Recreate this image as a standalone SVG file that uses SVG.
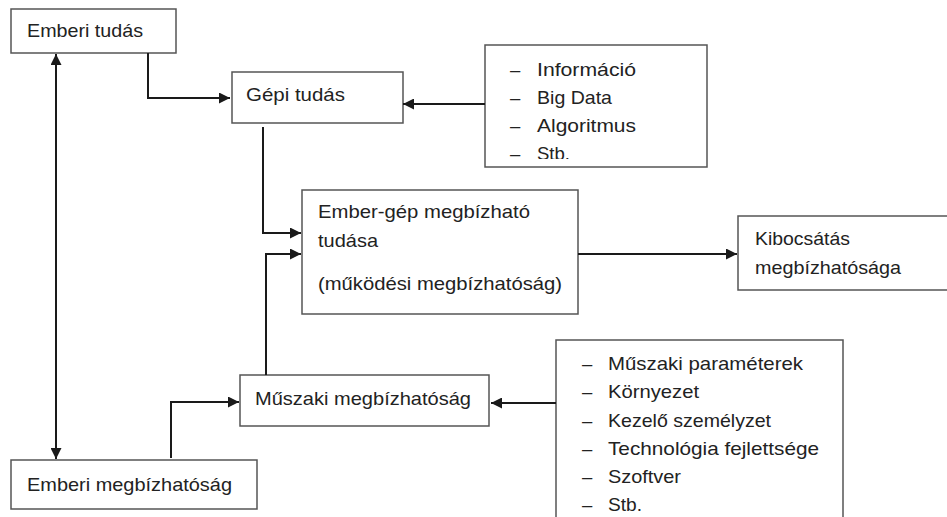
<svg xmlns="http://www.w3.org/2000/svg" width="947" height="517" viewBox="0 0 947 517">
<style>
.box{fill:#fff;stroke:#555;stroke-width:1.5}
.t{font-family:"Liberation Sans",Arial,sans-serif;font-size:18.5px;fill:#222}
.c{fill:none;stroke:#1a1a1a;stroke-width:2}
</style>
<defs>
<marker id="ah" markerUnits="userSpaceOnUse" markerWidth="11" markerHeight="11" refX="11" refY="5.5" orient="auto-start-reverse">
<path d="M0,0 L11,5.5 L0,11 z" fill="#1a1a1a"/>
</marker>
<clipPath id="clip1"><rect x="485" y="45" width="222" height="114"/></clipPath>
</defs>
<rect width="947" height="517" fill="#fff"/>
<g id="emberi-tudas">
<rect class="box" x="11" y="9" width="165" height="44"/>
<text class="t" x="27" y="37" textLength="116" lengthAdjust="spacingAndGlyphs">Emberi tudás</text>
</g>
<g id="gepi-tudas">
<rect class="box" x="232" y="72" width="171" height="51"/>
<text class="t" x="246" y="101" textLength="99" lengthAdjust="spacingAndGlyphs">Gépi tudás</text>
</g>
<g id="info-lista">
<rect class="box" x="485" y="45" width="222" height="122"/>
<g clip-path="url(#clip1)">
<text class="t" x="510" y="76">–</text><text class="t" x="537" y="76" textLength="99" lengthAdjust="spacingAndGlyphs">Információ</text>
<text class="t" x="510" y="104">–</text><text class="t" x="537" y="104" textLength="75" lengthAdjust="spacingAndGlyphs">Big Data</text>
<text class="t" x="510" y="132">–</text><text class="t" x="537" y="132" textLength="99" lengthAdjust="spacingAndGlyphs">Algoritmus</text>
<text class="t" x="510" y="160">–</text><text class="t" x="537" y="160" textLength="33" lengthAdjust="spacingAndGlyphs">Stb.</text>
</g>
</g>
<g id="ember-gep">
<rect class="box" x="302" y="190" width="276" height="124"/>
<text class="t" x="318" y="218" textLength="212" lengthAdjust="spacingAndGlyphs">Ember-gép megbízható</text>
<text class="t" x="318" y="247" textLength="60" lengthAdjust="spacingAndGlyphs">tudása</text>
<text class="t" x="318" y="290" textLength="244" lengthAdjust="spacingAndGlyphs">(működési megbízhatóság)</text>
</g>
<g id="kibocsatas">
<rect class="box" x="738" y="216" width="230" height="74"/>
<text class="t" x="755" y="245" textLength="95" lengthAdjust="spacingAndGlyphs">Kibocsátás</text>
<text class="t" x="755" y="274" textLength="146" lengthAdjust="spacingAndGlyphs">megbízhatósága</text>
</g>
<g id="muszaki">
<rect class="box" x="240" y="375" width="249" height="51"/>
<text class="t" x="255" y="405" textLength="216" lengthAdjust="spacingAndGlyphs">Műszaki megbízhatóság</text>
</g>
<g id="emberi-megb">
<rect class="box" x="11" y="460" width="246" height="49"/>
<text class="t" x="27" y="491" textLength="205" lengthAdjust="spacingAndGlyphs">Emberi megbízhatóság</text>
</g>
<g id="muszaki-lista">
<rect class="box" x="556" y="340" width="287" height="200"/>
<text class="t" x="582" y="370">–</text><text class="t" x="608" y="370" textLength="195" lengthAdjust="spacingAndGlyphs">Műszaki paraméterek</text>
<text class="t" x="582" y="398">–</text><text class="t" x="608" y="398" textLength="91" lengthAdjust="spacingAndGlyphs">Környezet</text>
<text class="t" x="582" y="427">–</text><text class="t" x="608" y="427" textLength="163" lengthAdjust="spacingAndGlyphs">Kezelő személyzet</text>
<text class="t" x="582" y="455">–</text><text class="t" x="608" y="455" textLength="211" lengthAdjust="spacingAndGlyphs">Technológia fejlettsége</text>
<text class="t" x="582" y="483">–</text><text class="t" x="608" y="483" textLength="73" lengthAdjust="spacingAndGlyphs">Szoftver</text>
<text class="t" x="582" y="511">–</text><text class="t" x="608" y="511" textLength="34" lengthAdjust="spacingAndGlyphs">Stb.</text>
</g>
<g id="connectors">
<path class="c" d="M148,53 V98 H230" marker-end="url(#ah)"/>
<path class="c" d="M485,104 H403" marker-end="url(#ah)"/>
<path class="c" d="M263,127 V233 H301" marker-end="url(#ah)"/>
<path class="c" d="M266,375 V254 H301" marker-end="url(#ah)"/>
<path class="c" d="M578,254 H737" marker-end="url(#ah)"/>
<path class="c" d="M56,54 V459" marker-start="url(#ah)" marker-end="url(#ah)"/>
<path class="c" d="M171,458 V402 H239" marker-end="url(#ah)"/>
<path class="c" d="M556,403 H491" marker-end="url(#ah)"/>
</g>
</svg>
